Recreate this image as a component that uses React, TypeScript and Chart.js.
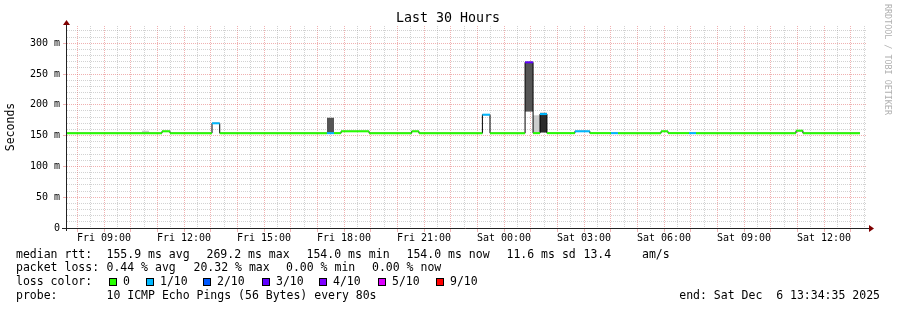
import React, { useEffect, useRef } from 'react';
import { Chart, registerables } from 'chart.js';

Chart.register(...registerables);

// ---- Data (x = hours since Fri 00:00, y = median RTT in ms) ----
const windowStart = 7.6125; // Fri 07:36
const windowEnd = 37.6125; // Sat 13:36
const dataEnd = 37.35;

const medianStart = [7.6125, 11.175, 11.475, 13.05, 13.34, 17.36, 17.625, 17.89, 18.94, 20.54, 20.81, 23.19, 23.475, 24.79, 25.09, 25.35, 25.61, 26.66, 27.22, 28.01, 28.275, 29.89, 30.15, 30.94, 31.2, 34.95, 35.21];
const medianMs = [154, 157, 154, 170, 154, 154, 154, 157, 154, 157, 154, 184, 154, 269, 154, 185, 154, 157, 154, 154, 154, 157, 154, 154, 154, 158, 154];
const lossLevel = [0, 0, 0, 1, 0, 1, 0, 0, 0, 0, 0, 1, 0, 3, 0, 1, 0, 1, 0, 1, 0, 0, 0, 1, 0, 0, 0];

const smokeStart = [10.425, 17.36, 24.79, 25.09, 25.35];
const smokeEnd = [10.687, 17.625, 25.09, 25.35, 25.61];
const smokeLow = [155, 155, 189, 155, 155];
const smokeHigh = [158, 179, 268, 183, 187];
const smokeDensity = [1, 4, 4, 1, 5];

const xLabelHours = [9, 12, 15, 18, 21, 24, 27, 30, 33, 36];
const xLabels = ['Fri 09:00', 'Fri 12:00', 'Fri 15:00', 'Fri 18:00', 'Fri 21:00', 'Sat 00:00', 'Sat 03:00', 'Sat 06:00', 'Sat 09:00', 'Sat 12:00'];
const yLabelValues = [0, 50, 100, 150, 200, 250, 300];
const yLabels = ['0', '50 m', '100 m', '150 m', '200 m', '250 m', '300 m'];

const lossColors = ['#26ff00', '#00b8ff', '#0059ff', '#5e00ff', '#7e00ff', '#dd00ff', '#ff0000'];
const lossLabels = ['0', '1/10', '2/10', '3/10', '4/10', '5/10', '9/10'];

const titleText = 'Last 30 Hours';
const yTitle = 'Seconds';
const watermark = 'RRDTOOL / TOBI OETIKER';
const rttLegend = ['median rtt:', '155.9 ms avg', '269.2 ms max', '154.0 ms min', '154.0 ms now', '11.6 ms sd', '13.4', 'am/s'];
const lossLegend = ['packet loss:', '0.44 % avg', '20.32 % max', '0.00 % min', '0.00 % now'];
const lossColorTitle = 'loss color:';
const probeLegend = ['probe:', '10 ICMP Echo Pings (56 Bytes) every 80s'];
const endText = 'end: Sat Dec  6 13:34:35 2025';

const MONO = '"DejaVu Sans Mono", monospace';
const MAJOR = 'rgba(222,81,81,0.45)';
const MINOR = 'rgba(143,143,143,0.4)';

function shade(d: number): string {
  const map = ['#e0e0e0', '#cccccc', '#a0a0a0', '#777777', '#555555', '#2b2b2b'];
  return map[d];
}

const decorPlugin = {
  id: 'decor',
  beforeDraw(chart: any) {
    const c = chart.ctx;
    c.save();
    c.fillStyle = '#ffffff';
    c.fillRect(0, 0, chart.width, chart.height);
    c.restore();
  },
  afterDraw(chart: any) {
    const c: CanvasRenderingContext2D = chart.ctx;
    const area = chart.chartArea;
    c.save();
    // title
    c.fillStyle = '#000';
    c.font = `13.3px ${MONO}`;
    c.textAlign = 'center';
    c.textBaseline = 'middle';
    c.fillText(titleText, 448, 19);
    // watermark
    c.save();
    c.translate(887, 4);
    c.rotate(Math.PI / 2);
    c.font = `8.4px ${MONO}`;
    c.fillStyle = '#b0b0b0';
    c.textAlign = 'left';
    c.textBaseline = 'middle';
    c.fillText(watermark, 0, 0);
    c.restore();
    // axes
    const by = Math.round(area.bottom) + 0.5;
    const lx = Math.round(area.left) - 0.5;
    c.strokeStyle = '#222';
    c.lineWidth = 1;
    c.beginPath();
    c.moveTo(area.left - 5, by);
    c.lineTo(area.right + 2, by);
    c.moveTo(lx, area.bottom + 3);
    c.lineTo(lx, area.top - 3);
    c.stroke();
    c.fillStyle = '#7f0000';
    c.beginPath();
    c.moveTo(area.right + 2, by - 3.5);
    c.lineTo(area.right + 7, by);
    c.lineTo(area.right + 2, by + 3.5);
    c.closePath();
    c.fill();
    c.beginPath();
    c.moveTo(lx - 3.5, area.top - 1);
    c.lineTo(lx, area.top - 6);
    c.lineTo(lx + 3.5, area.top - 1);
    c.closePath();
    c.fill();
    // legend
    c.fillStyle = '#000';
    c.font = `11.5px ${MONO}`;
    c.textAlign = 'left';
    c.textBaseline = 'middle';
    const row1 = [16, 106.5, 206.5, 306.5, 406.5, 506.5, 583.5, 642];
    rttLegend.forEach((t, i) => c.fillText(t, row1[i], 254.7));
    const row2 = [16, 106.5, 193.5, 286, 372];
    lossLegend.forEach((t, i) => c.fillText(t, row2[i], 268.3));
    c.fillText(lossColorTitle, 16, 282.3);
    const boxes = [109, 145.7, 203.3, 261.7, 319.3, 377.7, 435.7];
    lossLabels.forEach((t, i) => {
      const bx = Math.round(boxes[i]);
      c.fillStyle = lossColors[i];
      c.fillRect(bx, 278, 8, 8);
      c.strokeStyle = '#000';
      c.strokeRect(bx + 0.5, 278.5, 7, 7);
      c.fillStyle = '#000';
      c.fillText(t, bx + 14, 282.3);
    });
    c.fillText(probeLegend[0], 16, 296);
    c.fillText(probeLegend[1], 106.5, 296);
    c.textAlign = 'right';
    c.fillText(endText, 880, 296);
    c.restore();
  },
};

export default function App() {
  const ref = useRef<HTMLCanvasElement>(null);
  useEffect(() => {
    const canvas = ref.current;
    if (!canvas) return;

    const smokeSets = smokeStart.map((s, i) => ({
      type: 'line',
      data: [
        { x: s, y: smokeHigh[i] },
        { x: smokeEnd[i], y: smokeHigh[i] },
      ],
      borderWidth: 0,
      borderColor: 'rgba(0,0,0,0)',
      backgroundColor: shade(smokeDensity[i]),
      fill: { value: smokeLow[i] },
      pointRadius: 0,
      order: 3,
    }));

    const stepPts = medianStart
      .map((s, i) => ({ x: s, y: medianMs[i] }))
      .concat([{ x: dataEnd, y: medianMs[medianMs.length - 1] }]);

    const colorPts: any[] = [];
    medianStart.forEach((s, i) => {
      const e = i + 1 < medianStart.length ? medianStart[i + 1] : dataEnd;
      colorPts.push({ x: s, y: medianMs[i] }, { x: e, y: medianMs[i] }, { x: e, y: null });
    });

    const chart = new Chart(canvas, {
      type: 'line',
      data: {
        datasets: [
          ...smokeSets,
          {
            type: 'line',
            data: stepPts,
            stepped: true,
            borderColor: '#000',
            borderWidth: 1,
            pointRadius: 0,
            fill: false,
            order: 2,
          },
          {
            type: 'line',
            data: colorPts,
            borderWidth: 2,
            pointRadius: 0,
            fill: false,
            spanGaps: false,
            borderColor: lossColors[0],
            segment: {
              borderColor: (ctx: any) => lossColors[lossLevel[Math.floor(ctx.p0DataIndex / 3)]],
            },
            order: 1,
          },
        ] as any,
      },
      options: {
        animation: false,
        responsive: false,
        devicePixelRatio: 1,
        events: [],
        layout: { padding: { left: 0, right: 30, top: 26, bottom: 0 } },
        plugins: {
          legend: { display: false },
          tooltip: { enabled: false },
          title: { display: false },
        },
        scales: {
          x: {
            type: 'linear',
            min: windowStart,
            max: windowEnd,
            afterBuildTicks: (s: any) => {
              const t = [];
              for (let v = 8; v <= 37.5; v += 0.5) t.push({ value: v });
              s.ticks = t;
            },
            afterFit: (s: any) => {
              s.height = 82;
            },
            grid: {
              color: (ctx: any) => (ctx.tick && ctx.tick.value % 1 === 0 ? MAJOR : MINOR),
              tickColor: (ctx: any) => (ctx.tick && ctx.tick.value % 1 === 0 ? MAJOR : 'rgba(0,0,0,0)'),
              lineWidth: 1,
              drawTicks: true,
              tickLength: 4,
            },
            border: { display: false, dash: [1, 1] },
            ticks: {
              autoSkip: false,
              maxRotation: 0,
              minRotation: 0,
              padding: 0,
              color: '#000',
              font: { family: MONO, size: 10 },
              callback: (v: any) => {
                const i = xLabelHours.indexOf(Number(v));
                return i >= 0 ? xLabels[i] : '';
              },
            },
          },
          y: {
            type: 'linear',
            min: 0,
            max: 328,
            afterBuildTicks: (s: any) => {
              const t = [];
              for (let v = 0; v <= 320; v += 10) t.push({ value: v });
              s.ticks = t;
            },
            afterFit: (s: any) => {
              s.width = 67;
            },
            grid: {
              color: (ctx: any) => (ctx.tick && ctx.tick.value % 50 === 0 ? MAJOR : MINOR),
              tickColor: (ctx: any) => (ctx.tick && ctx.tick.value % 50 === 0 ? MAJOR : 'rgba(0,0,0,0)'),
              lineWidth: 1,
              drawTicks: true,
              tickLength: 4,
            },
            border: { display: false, dash: [1, 1] },
            ticks: {
              autoSkip: false,
              padding: 3,
              color: '#000',
              font: { family: MONO, size: 10 },
              callback: (v: any) => {
                const i = yLabelValues.indexOf(Number(v));
                return i >= 0 ? yLabels[i] : '';
              },
            },
            title: {
              display: true,
              text: yTitle,
              color: '#000',
              font: { family: MONO, size: 11.5 },
              padding: { top: 4, bottom: 0 },
            },
          },
        },
      } as any,
      plugins: [decorPlugin as any],
    });
    return () => chart.destroy();
  }, []);

  return (
    <div style={{ position: 'absolute', left: 0, top: 0, width: 897, height: 310, background: '#fff' }}>
      <canvas ref={ref} width={897} height={310} style={{ display: 'block', width: 897, height: 310 }} />
    </div>
  );
}
